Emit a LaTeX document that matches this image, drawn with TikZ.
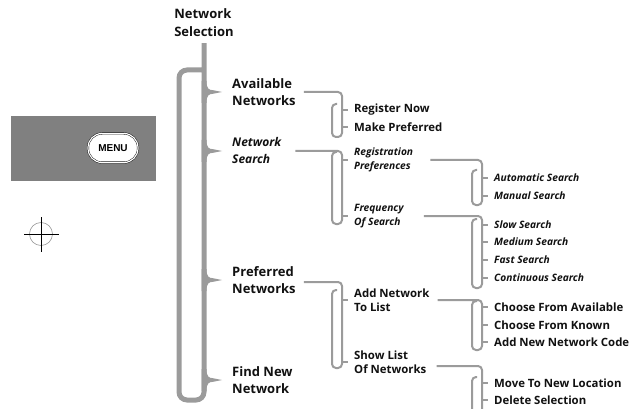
\documentclass[tikz,border=0pt]{standalone}
\usepackage{fontspec}
\setmainfont{Open Sans}
\newfontfamily\btnfont{Liberation Sans}
\usetikzlibrary{calc}
\definecolor{LineGray}{HTML}{9B9B9B}
\definecolor{PanelGray}{HTML}{808080}
\definecolor{TextBlack}{HTML}{111111}
\tikzset{
    % Tree line styles
    trunk/.style={
        draw=LineGray,
        line width=5pt,
        rounded corners=8pt
    },
    branch/.style={
        draw=LineGray,
        line width=2pt,
        rounded corners=4pt
    },
    tick/.style={
        draw=LineGray,
        line width=1.6pt
    },
    % Menu item styles
    titleitem/.style={
        inner sep=0pt,
        align=left,
        text=TextBlack,
        font=\bfseries\fontsize{13}{18}\selectfont
    },
    topitem/.style={
        anchor=west,
        inner sep=0pt,
        align=left,
        text=TextBlack,
        font=\bfseries\fontsize{13}{17}\selectfont
    },
    topslant/.style={
        topitem,
        font=\bfseries\itshape\fontsize{12}{17}\selectfont
    },
    subitem/.style={
        anchor=west,
        inner sep=0pt,
        align=left,
        text=TextBlack,
        font=\bfseries\fontsize{11.4}{14}\selectfont
    },
    slantitem/.style={
        subitem,
        font=\bfseries\itshape\fontsize{10.2}{14}\selectfont
    },
    % Phone key styles
    panel/.style={
        rectangle,
        fill=PanelGray,
        minimum width=145pt,
        minimum height=65pt,
        inner sep=0pt
    },
    menukey/.style={
        rectangle,
        rounded corners=14pt,
        fill=white,
        draw=black,
        double=white,
        double distance=1.2pt,
        minimum width=50pt,
        minimum height=29pt,
        inner sep=0pt,
        font=\btnfont\bfseries\fontsize{10}{10}\selectfont
    }
}
\begin{document}
\begin{tikzpicture}[x=1pt,y=-1pt]
    \clip (0,0) rectangle (632,409);

    % Phone key
    \node[panel] (pnl) at (83.5,148.5) {};
    \node[menukey] (menu) at (113,148) {MENU};

    % Register mark
    \draw[gray!80,line width=0.6pt] (41,234) circle (11.5pt);
    \draw[line width=0.8pt] (24,234) -- (59,234);
    \draw[line width=0.8pt] (41,217) -- (41,252);

    % Level 1
    \node[titleitem] (sel) at (204,23) {Network\\Selection};
    \node[topitem] (avl) at (232,92) {Available\\Networks};
    \node[topslant] (nsr) at (232,151) {Network\\Search};
    \node[topitem] (prf) at (232,280) {Preferred\\Networks};
    \node[topitem] (fnd) at (232,380) {Find New\\Network};

    % Level 2
    \node[subitem] (reg) at (354,110) {Register Now};
    \node[subitem] (mkp) at (354,127) {Make Preferred};
    \node[slantitem] (rpr) at (354,160) {Registration\\Preferences};
    \node[slantitem] (frq) at (354,216) {Frequency\\Of Search};
    \node[subitem] (add) at (354,300) {Add Network\\To List};
    \node[subitem] (shw) at (354,362) {Show List\\Of Networks};

    % Level 3
    \node[slantitem] (aut) at (494,178) {Automatic Search};
    \node[slantitem] (man) at (494,196) {Manual Search};
    \node[slantitem] (slw) at (494,225) {Slow Search};
    \node[slantitem] (med) at (494,242) {Medium Search};
    \node[slantitem] (fst) at (494,260) {Fast Search};
    \node[slantitem] (cnt) at (494,278) {Continuous Search};
    \node[subitem] (cav) at (494,307) {Choose From Available};
    \node[subitem] (ckn) at (494,325) {Choose From Known};
    \node[subitem] (anc) at (494,342) {Add New Network Code};
    \node[subitem] (mov) at (494,383) {Move To New Location};
    \node[subitem] (del) at (494,400) {Delete Selection};

    % Main trunk with brace tips
    \draw[trunk] ([yshift=-6pt]sel.south) -- (sel.south |- 0,400) -- (179,400) -- (179,70) -- ([xshift=2pt]sel.south |- 0,70);
    \foreach \n in {avl,nsr,prf,fnd} {
        \fill[LineGray,shift={(\n.west)}] (-30.5,-11) -- (-25.5,-11)
            .. controls (-25.5,-3) and (-23,-2) .. (-19,-1.8) -- (-10,0)
            -- (-19,1.8) .. controls (-23,2) and (-25.5,3) .. (-25.5,11)
            -- (-30.5,11) -- cycle;
    }

    % Brackets, level 1 to 2
    \draw[branch] ([xshift=8pt]avl.east) -| (342,137) -- (332,137) -- (332,104) -- (337,104);
    \foreach \n in {reg,mkp}
        \draw[tick] (\n.west -| 342,0) -- ([xshift=-6pt]\n.west);

    \draw[branch] ([xshift=14pt]nsr.east) -| (342,224) -- (332,224) -- (332,152) -- (337,152);
    \foreach \n in {rpr,frq}
        \draw[tick] (\n.west -| 342,0) -- ([xshift=-6pt]\n.west);

    \draw[branch] ([xshift=8pt,yshift=-2pt]prf.east) -| (342,368) -- (332,368) -- (332,290) -- (337,290);
    \foreach \n in {add,shw}
        \draw[tick] (\n.west -| 342,0) -- ([xshift=-6pt]\n.west);

    % Brackets, level 2 to 3
    \draw[branch] ([xshift=17pt]rpr.east) -| (482,205) -- (472,205) -- (472,170) -- (477,170);
    \foreach \n in {aut,man}
        \draw[tick] (\n.west -| 482,0) -- ([xshift=-6pt]\n.west);

    \draw[branch] ([xshift=20pt]frq.east) -| (482,288) -- (472,288) -- (472,219) -- (477,219);
    \foreach \n in {slw,med,fst,cnt}
        \draw[tick] (\n.west -| 482,0) -- ([xshift=-6pt]\n.west);

    \draw[branch] ([xshift=8pt]add.east) -| (482,350) -- (472,350) -- (472,301) -- (477,301);
    \foreach \n in {cav,ckn,anc}
        \draw[tick] (\n.west -| 482,0) -- ([xshift=-6pt]\n.west);

    \draw[branch] ([xshift=10pt,yshift=-4pt]shw.east) -| (482,430) -- (472,430) -- (472,377) -- (477,377);
    \foreach \n in {mov,del}
        \draw[tick] (\n.west -| 482,0) -- ([xshift=-6pt]\n.west);
\end{tikzpicture}
\end{document}
